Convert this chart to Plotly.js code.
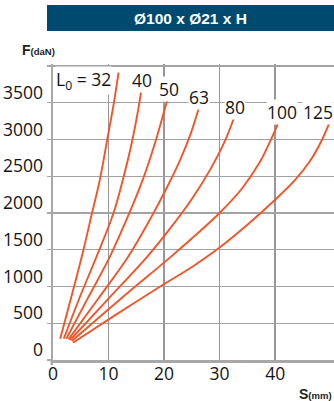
<!DOCTYPE html>
<html>
<head>
<meta charset="utf-8">
<script src="https://cdn.plot.ly/plotly-3.0.1.min.js"></script>
<style>html,body{margin:0;padding:0;background:#fff;}#chart{width:334px;height:401px;}</style>
</head>
<body>
<div id="chart"></div>
<script>
// Free lengths L0 (mm)
const L0 = [32, 40, 50, 63, 80, 100, 125];
// Deflection S (mm) and force F (daN) for each free length
const s32  = [1.3, 3.2, 5.1, 7.0, 8.4, 9.75, 10.9, 11.8];
const f32  = [290, 830, 1380, 1990, 2440, 2990, 3470, 3910];
const s40  = [1.95, 4.8, 7.8, 10.9, 12.6, 14.2, 15.4, 16.0];
const f40  = [290, 850, 1400, 2000, 2460, 2960, 3430, 3727];
const s50  = [2.4, 6.3, 10.2, 13.7, 16.2, 18.4, 20.0, 20.8];
const f50  = [290, 845, 1400, 1990, 2460, 2960, 3380, 3591];
const s63  = [2.8, 8.2, 13.5, 17.6, 20.6, 23.0, 24.8, 26.2];
const f63  = [280, 840, 1400, 1930, 2360, 2740, 3080, 3410];
const s80  = [3.1, 10.0, 16.9, 21.1, 25.0, 28.3, 30.9, 32.6];
const f80  = [272, 835, 1400, 1790, 2190, 2590, 2970, 3296];
const s100 = [3.4, 12.0, 21.2, 26.0, 30.0, 34.0, 37.3, 39.2, 40.6];
const f100 = [258, 820, 1403, 1720, 2000, 2330, 2700, 2990, 3228];
const s125 = [3.6, 11.0, 19.3, 25.3, 30.0, 35.0, 40.0, 43.6, 46.4, 48.4, 49.9];
const f125 = [235, 600, 1000, 1280, 1530, 1840, 2180, 2450, 2720, 2990, 3251];

const xTicks = [0, 10, 20, 30, 40];
const yTicks = [0, 500, 1000, 1500, 2000, 2500, 3000, 3500, 4000];
const yTickText = ['0', '500', '1000', '1500', '2000', '2500', '3000', '3500', ''];

const titleText = 'Ø100 x Ø21 x H';
const curveLabels = ['L<sub>0</sub> = 32', '40', '50', '63', '80', '100', '125'];

const S = [s32, s40, s50, s63, s80, s100, s125];
const F = [f32, f40, f50, f63, f80, f100, f125];

const curveColor = '#ef562a';
const traces = L0.map((l, i) => ({
  x: S[i], y: F[i], type: 'scatter', mode: 'lines', name: 'L0=' + l,
  line: {color: curveColor, width: 1.9, shape: 'spline', smoothing: 1},
  hoverinfo: 'skip', showlegend: false
}));

// pixel -> paper helpers (plot area: x 53..334, y 64..360)
const PX0 = 53, PW = 281, PY1 = 360, PH = 296;
const px = v => (v - PX0) / PW;
const py = v => (PY1 - v) / PH;

const tickFont = {family: 'Open Sans, Noto Sans, sans-serif', size: 17.5, color: '#151515'};
const axisGray = '#a8a8a8';
const vGridColor = '#979797', hGridColor = '#a3a3a3';

const labelPos = [[55, 80, 'left'], [142.2, 80.3, 'center'], [168.8, 89, 'center'], [199.3, 97, 'center'],
                  [234.7, 107.3, 'center'], [282, 112, 'center'], [333.5, 112, 'right']];

const annotations = curveLabels.map((t, i) => ({
  xref: 'paper', yref: 'paper', x: px(labelPos[i][0]), y: py(labelPos[i][1]),
  xanchor: labelPos[i][2], yanchor: 'middle', text: t, showarrow: false,
  font: tickFont, bgcolor: '#ffffff', borderpad: 0
}));
annotations.push({
  xref: 'paper', yref: 'paper', x: px(190.5), y: py(18.5), xanchor: 'center', yanchor: 'middle',
  text: '<b>' + titleText + '</b>', showarrow: false,
  font: {family: 'Liberation Sans, Arial, sans-serif', size: 15.5, color: '#ffffff'}
});
annotations.push({
  xref: 'paper', yref: 'paper', x: px(20), y: py(50), xanchor: 'left', yanchor: 'middle',
  text: '<b>F<span style="font-size:9.5px">(daN)</span></b>', showarrow: false,
  font: {family: 'Liberation Sans Narrow, Arial Narrow, sans-serif', size: 14, color: '#222'}
});
annotations.push({
  xref: 'paper', yref: 'paper', x: px(333.5), y: py(394), xanchor: 'right', yanchor: 'middle',
  text: '<b>S<span style="font-size:9.5px">(mm)</span></b>', showarrow: false,
  font: {family: 'Liberation Sans Narrow, Arial Narrow, sans-serif', size: 14, color: '#222'}
});

const layout = {
  width: 334, height: 401,
  margin: {l: PX0, r: 334 - PX0 - PW, t: 64, b: 401 - PY1, pad: 0},
  paper_bgcolor: '#ffffff', plot_bgcolor: '#ffffff',
  showlegend: false,
  xaxis: {
    range: [0, 50.6], tickvals: xTicks, ticktext: xTicks.map(String),
    showgrid: true, gridcolor: vGridColor, gridwidth: 1.3,
    showline: true, linecolor: axisGray, linewidth: 2.5,
    ticks: '', zeroline: false, tickfont: tickFont, ticklabelstandoff: -4
  },
  yaxis: {
    range: [0, 4027], tickvals: yTicks, ticktext: yTickText,
    showgrid: true, gridcolor: hGridColor, gridwidth: 1.3,
    showline: true, linecolor: axisGray, linewidth: 2.5,
    ticks: 'outside', ticklen: 4, tickwidth: 1.3, tickcolor: axisGray,
    zeroline: false, tickfont: tickFont, ticklabelshift: -10
  },
  shapes: [
    {type: 'rect', xref: 'paper', yref: 'paper', x0: px(47), x1: px(334), y0: py(31), y1: py(5),
     fillcolor: '#004a70', line: {width: 0}, layer: 'above'},
    {type: 'line', xref: 'paper', yref: 'paper', x0: px(51.75), x1: px(51.75), y0: py(360), y1: py(365),
     line: {color: axisGray, width: 2.5}}
  ],
  annotations: annotations
};

const gd = document.getElementById('chart');
Plotly.newPlot(gd, traces, layout, {displayModeBar: false, staticPlot: true}).then(() => {
  // force a full repaint of the chart once drawing has finished
  gd.style.opacity = '0.999';
  requestAnimationFrame(() => {
    gd.style.opacity = '1';
    requestAnimationFrame(() => { gd.style.transform = 'translateZ(0)'; });
  });
});
</script>
</body>
</html>
